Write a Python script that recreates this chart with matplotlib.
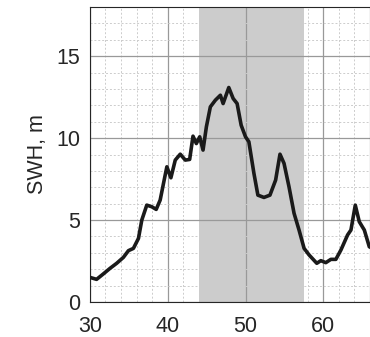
import numpy as np
import matplotlib.pyplot as plt

plt.rcParams['font.family'] = ['Liberation Sans', 'DejaVu Sans']

# time axis and significant wave height
t = [30.0, 30.86, 31.72, 32.58, 33.44, 34.30, 34.95, 35.59, 36.24, 36.67,
     37.31, 37.96, 38.52, 39.03, 39.46, 39.89, 40.41, 40.97, 41.61, 42.26,
     42.82, 43.25, 43.68, 44.11, 44.54, 44.97, 45.48, 46.13, 46.77, 47.12,
     47.85, 48.41, 48.92, 49.44, 50.0, 50.43, 51.08, 51.59, 52.37, 53.14,
     53.87, 54.43, 54.95, 55.59, 56.24, 56.88, 57.53, 58.17, 59.16, 59.68,
     60.32, 60.97, 61.61, 62.26, 63.12, 63.55, 64.11, 64.62, 65.27, 65.91, 66.2]
swh = [1.50, 1.38, 1.71, 2.05, 2.36, 2.72, 3.13, 3.27, 3.88, 5.0,
       5.91, 5.81, 5.65, 6.22, 7.24, 8.25, 7.58, 8.66, 9.02, 8.66,
       8.70, 10.12, 9.67, 10.08, 9.27, 10.69, 11.91, 12.32, 12.62, 12.11,
       13.09, 12.42, 12.11, 10.79, 10.08, 9.78, 7.85, 6.52, 6.38, 6.52,
       7.44, 9.02, 8.46, 7.03, 5.41, 4.39, 3.27, 2.87, 2.36, 2.52,
       2.40, 2.60, 2.60, 3.17, 4.09, 4.39, 5.91, 4.90, 4.39, 3.37, 3.3]
storm = (44.0, 57.5)

fig = plt.figure(figsize=(3.7, 3.37), dpi=100)
ax = fig.add_axes([0.243, 0.104, 0.757, 0.875])

ax.axvspan(storm[0], storm[1], color='#cccccc', lw=0, zorder=0)
ax.plot(t, swh, color='#1a1a1a', lw=2.6, zorder=3,
        solid_joinstyle='round', solid_capstyle='round')

ax.set_xlim(30, 66)
ax.set_ylim(0, 18)
ax.set_xticks([30, 40, 50, 60])
ax.set_yticks([0, 5, 10, 15])
ax.set_xticks(np.arange(30, 67, 2), minor=True)
ax.set_yticks(np.arange(0, 19, 1), minor=True)
ax.grid(which='major', color='#999999', lw=0.9, zorder=1)
ax.grid(which='minor', color='#cccccc', lw=0.7, ls=(0, (2, 2)), zorder=1)
ax.set_axisbelow(True)
ax.tick_params(which='both', length=0, labelsize=15.5, colors='#262626')
ax.tick_params(axis='x', pad=10)
ax.tick_params(axis='y', pad=7)
ax.set_ylabel('SWH, m', fontsize=15.5, color='#262626', labelpad=6)
for s in ax.spines.values():
    s.set_color('#262626')
    s.set_linewidth(0.8)

fig.savefig('out.png', dpi=100)
